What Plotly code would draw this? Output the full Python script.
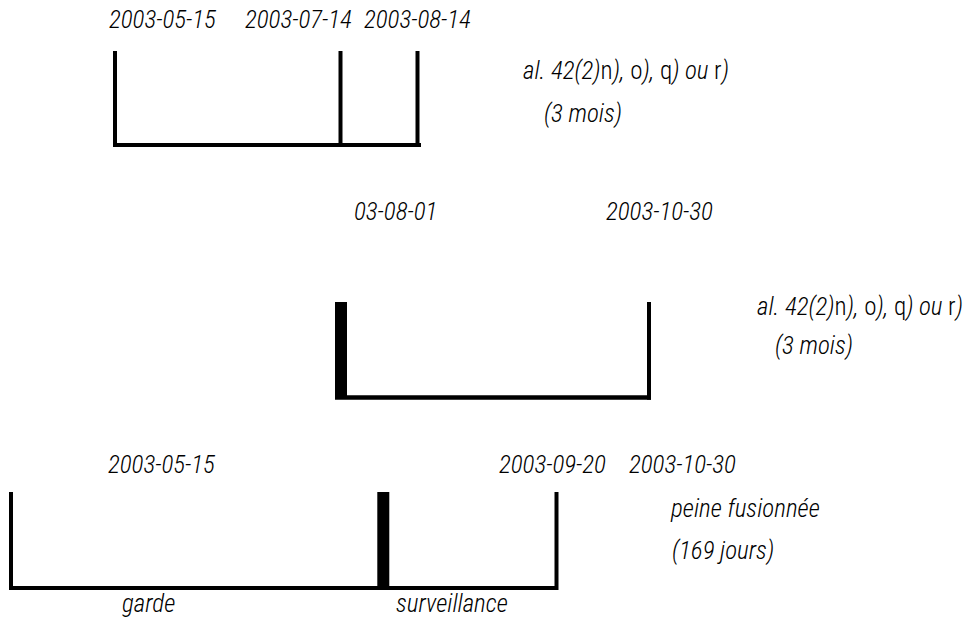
import plotly.graph_objects as go

# ---- content (data) ----
diag1_dates = ["2003-05-15", "2003-07-14", "2003-08-14"]
diag1_note = ["<i>al. 42(2)</i>n<i>),</i> o<i>),</i> q<i>) ou </i>r<i>)</i>", "<i>(3 mois)</i>"]
diag2_dates = ["03-08-01", "2003-10-30"]
diag2_note = ["<i>al. 42(2)</i>n<i>),</i> o<i>),</i> q<i>) ou </i>r<i>)</i>", "<i>(3 mois)</i>"]
diag3_dates = ["2003-05-15", "2003-09-20", "2003-10-30"]
diag3_note = ["<i>peine fusionnée</i>", "<i>(169 jours)</i>"]
diag3_periods = ["<i>garde</i>", "<i>surveillance</i>"]

# ---- layout geometry (pixel space of the page) ----
W, H = 972, 619
diagrams = [
    dict(ticks=[(115, 4), (340.5, 4), (417.5, 4)], top=51, base=145, bw=4, bx=(113, 421)),
    dict(ticks=[(341, 12), (649, 4)], top=302, base=397.5, bw=4.5, bx=(347, 651)),
    dict(ticks=[(11, 4), (383.3, 12), (556.5, 4)], top=492, base=588, bw=4, bx=(9, 558)),
]
d1_date_pos = [(107, 19), (243, 19), (362, 19)]
d1_note_pos = [(521, 70), (542, 113)]
d2_date_pos = [(352, 211), (604, 211)]
d2_note_pos = [(755, 306), (773, 345)]
d3_date_pos = [(106, 464), (497, 464), (627, 464)]
d3_note_pos = [(668, 508), (670, 550)]
d3_period_pos = [(120, 603), (394, 603)]

FONT = "Roboto Condensed, Roboto, sans-serif"
FS = 25

fig = go.Figure()
fig.add_trace(go.Scatter(x=[0, W], y=[0, H], mode="markers", marker=dict(opacity=0),
                         hoverinfo="skip", showlegend=False))

shapes = []
for d in diagrams:
    bottom = d["base"] + d["bw"] / 2
    for (xc, w) in d["ticks"]:
        shapes.append(dict(type="rect", xref="x", yref="y", x0=xc - w / 2, x1=xc + w / 2,
                           y0=d["top"], y1=bottom, fillcolor="black", line=dict(width=0)))
    shapes.append(dict(type="rect", xref="x", yref="y", x0=d["bx"][0], x1=d["bx"][1],
                       y0=d["base"] - d["bw"] / 2, y1=bottom, fillcolor="black", line=dict(width=0)))

annotations = []
def add_texts(texts, positions, italic=True):
    for t, (x, y) in zip(texts, positions):
        annotations.append(dict(x=x, y=y, xref="x", yref="y", text=(f"<i>{t}</i>" if italic else t),
                                showarrow=False, xanchor="left", yanchor="middle",
                                font=dict(family=FONT, size=FS, color="black", weight=300)))

add_texts(diag1_dates, d1_date_pos)
add_texts(diag1_note, d1_note_pos, italic=False)
add_texts(diag2_dates, d2_date_pos)
add_texts(diag2_note, d2_note_pos, italic=False)
add_texts(diag3_dates, d3_date_pos)
add_texts(diag3_note, d3_note_pos, italic=False)
add_texts(diag3_periods, d3_period_pos, italic=False)

fig.update_layout(
    width=W, height=H, margin=dict(l=0, r=0, t=0, b=0),
    paper_bgcolor="white", plot_bgcolor="white",
    xaxis=dict(range=[0, W], visible=False, fixedrange=True),
    yaxis=dict(range=[H, 0], visible=False, fixedrange=True),
    shapes=shapes, annotations=annotations, showlegend=False,
)
fig.write_html("out.html", config={"displayModeBar": False},
               post_script="document.body.style.margin='0';")
